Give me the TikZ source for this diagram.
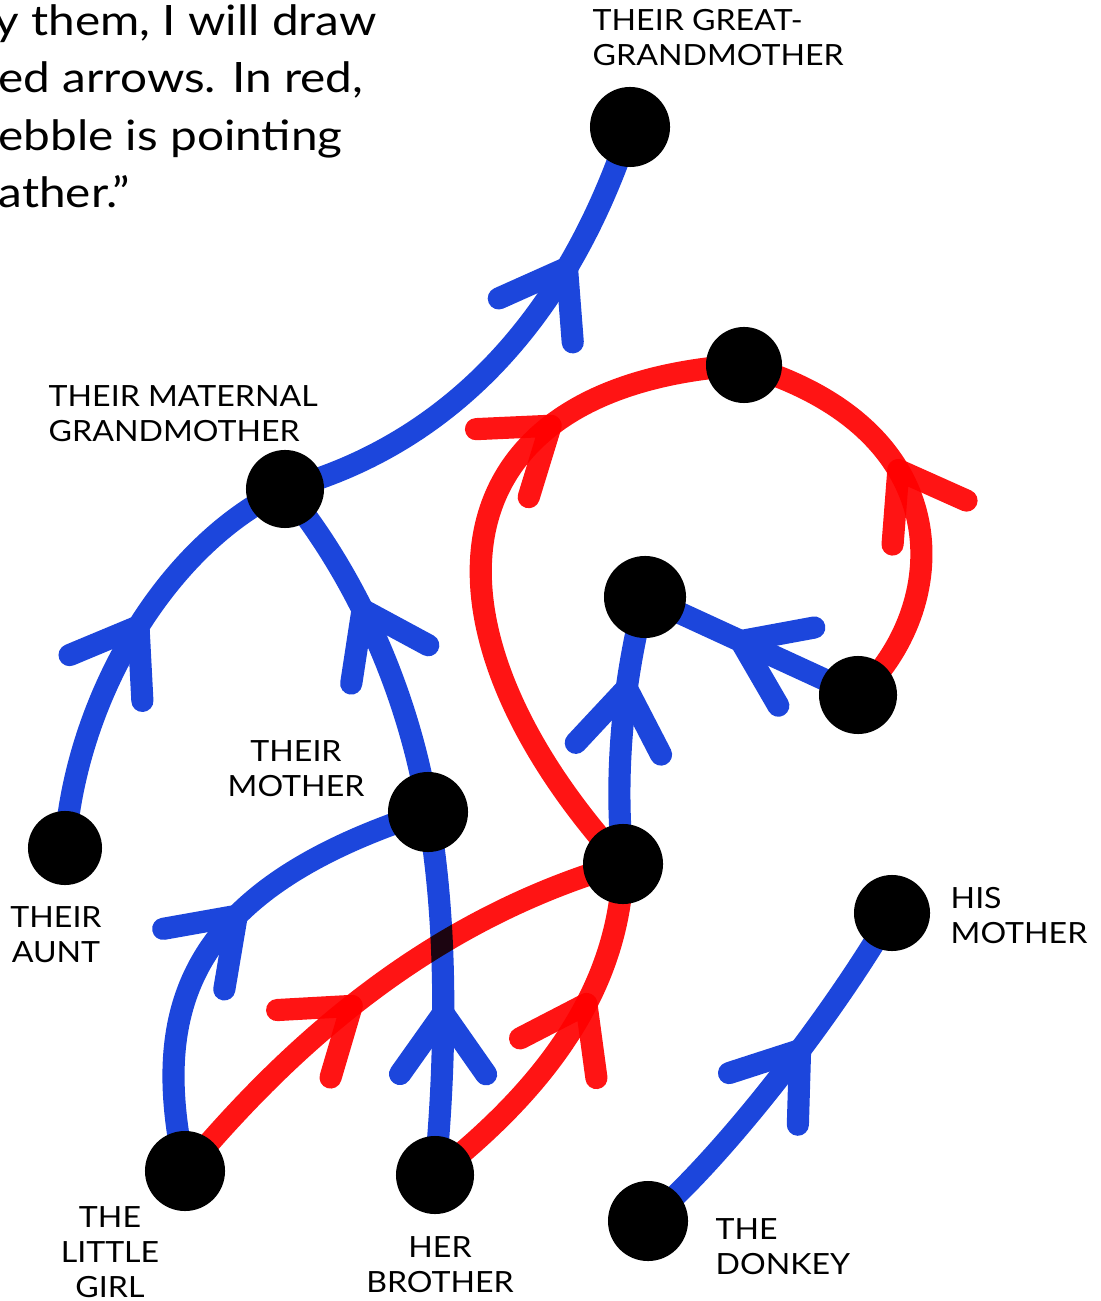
\documentclass[tikz,border=0pt]{standalone}
\usepackage{fontspec}
\setmainfont{Lato}
\newfontfamily\lblfont[FakeStretch=1.1]{Lato}
\newfontfamily\bigfont[FakeStretch=1.14]{Lato}
\usetikzlibrary{backgrounds}
\definecolor{pblue}{RGB}{28,70,220}
\definecolor{pred}{RGB}{255,20,20}
\tikzset{
  dot/.style={circle, fill=black, minimum size=0.78cm, inner sep=0pt},
  lbl/.style={inner sep=0pt, font=\lblfont\fontsize{8.3}{9.96}\selectfont},
  big/.style={inner sep=0pt, anchor=base west, font=\bigfont\fontsize{11.9}{16.5}\selectfont},
  stroke/.style={line width=6.3pt, line cap=round, line join=round},
  bl/.style={stroke, draw=pblue},
  rd/.style={stroke, draw=pred},
  chv/.style={sloped, allow upside down=true, pos=#1},
  pics/chev/.style={code={\draw[stroke, draw=#1] (-0.61cm,0.43cm) -- (0,0) -- (-0.61cm,-0.43cm);}},
}
\begin{document}
\begin{tikzpicture}[x=0.01cm, y=-0.01cm]
\useasboundingbox (0,0) rectangle (1100,1301);
% text at top left
\node[big] (t1) at (-6,36) {y them, I will draw};
\node[big] (t2) at (-2,93) {ed arrows. In red,};
\node[big] (t3) at (-2,151) {ebble is pointing};
\node[big] (t4) at (-2,208) {ather.”};
% pebbles
\node[dot, minimum size=0.8cm] (gg) at (630,127) {};
\node[dot] (mgm) at (285,489) {};
\node[dot, minimum size=0.74cm] (aunt) at (65,848) {};
\node[dot, minimum size=0.8cm] (mo) at (428,812) {};
\node[dot, minimum size=0.8cm] (girl) at (185,1171) {};
\node[dot] (bro) at (435,1175) {};
\node[dot, minimum size=0.8cm] (fa) at (623,864) {};
\node[dot, minimum size=0.82cm] (pgm) at (645,597) {};
\node[dot] (sib) at (858,695) {};
\node[dot, minimum size=0.76cm] (pgf) at (744,365) {};
\node[dot, minimum size=0.8cm] (don) at (648,1221) {};
\node[dot, minimum size=0.76cm] (hm) at (892,913) {};
% labels
\node[lbl, anchor=north west, align=left] (lgg) at (592,9) {THEIR GREAT-\\GRANDMOTHER};
\node[lbl, anchor=north west, align=left] (lmgm) at (48,385) {THEIR MATERNAL\\GRANDMOTHER};
\node[lbl, anchor=north, align=center] (lmo) at (296,740) {THEIR\\MOTHER};
\node[lbl, anchor=north, align=center] (lau) at (56,906) {THEIR\\AUNT};
\node[lbl, anchor=north, align=center] (lgi) at (110,1206) {THE\\LITTLE\\GIRL};
\node[lbl, anchor=north, align=center] (lbr) at (440,1236) {HER\\BROTHER};
\node[lbl, anchor=north west, align=left] (ldo) at (715,1218) {THE\\DONKEY};
\node[lbl, anchor=north west, align=left] (lhm) at (950,887) {HIS\\MOTHER};
\begin{pgfonlayer}{background}
% blue: mother
\draw[bl] (aunt.center) .. controls (75,700) and (165,545) .. (mgm.center) pic[chv=0.52]{chev=pblue};
\draw[bl] (mgm.center) .. controls (430,450) and (560,340) .. (gg.center) pic[chv=0.75]{chev=pblue};
\draw[bl] (mo.center) .. controls (410,700) and (360,580) .. (mgm.center) pic[chv=0.6]{chev=pblue};
\draw[bl] (girl.center) .. controls (150,1010) and (185,890) .. (mo.center) pic[chv=0.63]{chev=pblue};
\draw[bl] (bro.center) .. controls (447,1050) and (447,920) .. (mo.center) pic[chv=0.43]{chev=pblue};
\draw[bl] (fa.center) .. controls (612,760) and (628,660) .. (pgm.center) pic[chv=0.6]{chev=pblue};
\draw[bl] (sib.center) -- (pgm.center) pic[chv=0.55]{chev=pblue};
\draw[bl] (don.center) .. controls (720,1160) and (830,1020) .. (hm.center) pic[chv=0.6]{chev=pblue};
% red: father
\begin{scope}[blend mode=multiply]
\draw[rd] (girl.center) .. controls (270,1070) and (410,925) .. (fa.center) pic[chv=0.49]{chev=pred};
\draw[rd] (bro.center) .. controls (530,1100) and (620,1000) .. (fa.center) pic[chv=0.62]{chev=pred};
\draw[rd] (fa.center) .. controls (410,630) and (425,385) .. (pgf.center) pic[chv=0.73]{chev=pred};
\draw[rd] (sib.center) .. controls (950,610) and (965,430) .. (pgf.center) pic[chv=0.64]{chev=pred};
\end{scope}
\end{pgfonlayer}
\end{tikzpicture}
\end{document}
